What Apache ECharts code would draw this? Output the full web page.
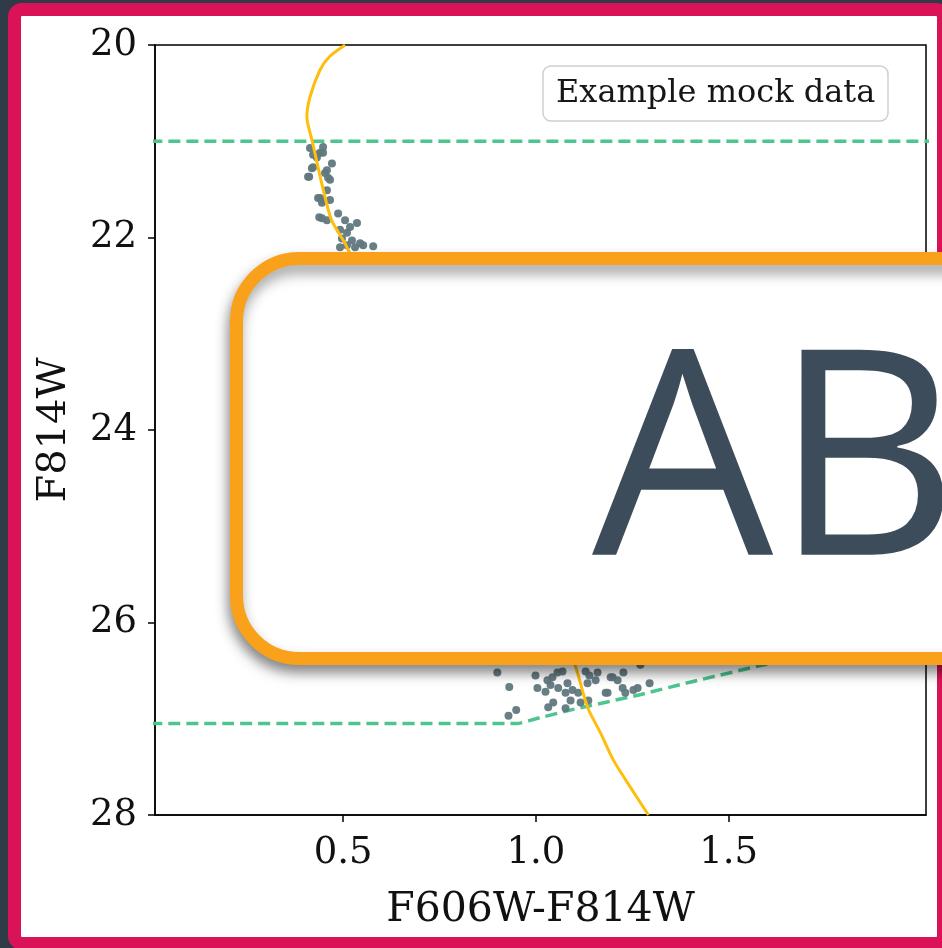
<!DOCTYPE html>
<html>
<head>
<meta charset="utf-8">
<script src="https://cdn.jsdelivr.net/npm/echarts@6/dist/echarts.min.js"></script>
<style>
  html, body { margin: 0; padding: 0; background: #2f3b46; overflow: hidden; }
  #frame { position: absolute; left: 8px; top: 3px; width: 942px; height: 947px; box-sizing: border-box;
           border: 13px solid #da1359; border-radius: 14px; background: #ffffff; }
  #chart { position: absolute; left: 0; top: 0; width: 942px; height: 948px; }
</style>
</head>
<body>
<div id="frame"></div>
<div id="chart"></div>
<script>
// ---- data ----
const xTickValues = [0.5, 1.0, 1.5];
const yTickValues = [20, 22, 24, 26, 28];
const xTitle = 'F606W-F814W';
const yTitle = 'F814W';
const legendText = 'Example mock data';
const overlayText = 'AB';

// isochrone (colour, magnitude)
const isochrone = [
  [0.505, 20.0], [0.465, 20.12], [0.44, 20.26], [0.414, 20.54], [0.406, 20.75], [0.42, 21.0],
  [0.447, 21.48], [0.47, 21.82], [0.505, 22.06], [0.513, 22.13], [0.6, 22.7],
  [0.7, 23.4], [0.8, 24.1], [0.9, 24.8], [0.98, 25.4], [1.05, 25.95], [1.103, 26.46],
  [1.134, 26.88], [1.168, 27.15], [1.201, 27.43], [1.245, 27.71], [1.292, 28.0]
];

// selection limits (dashed)
const upperLimit = [[0.0, 21.0], [2.1, 21.0]];
const lowerLimit = [
  [0.0, 27.05], [0.95, 27.05], [1.0, 27.0], [1.1, 26.9], [1.27, 26.75],
  [1.4, 26.62], [1.58, 26.45], [2.1, 25.95]
];

// mock stars
const starsUpper = [
  [0.414,21.07],[0.440,21.12],[0.422,21.14],[0.448,21.12],[0.432,21.17],[0.471,21.23],
  [0.419,21.28],[0.458,21.30],[0.453,21.33],[0.412,21.37],[0.461,21.38],[0.466,21.40],
  [0.458,21.51],[0.440,21.59],[0.448,21.61],[0.466,21.61],[0.445,21.64],[0.487,21.75],
  [0.445,21.80],[0.458,21.82],[0.505,21.82],[0.518,21.89],[0.536,21.85],[0.492,21.92],
  [0.510,21.95],[0.497,22.01],[0.523,22.03],[0.544,22.06],[0.492,22.10],[0.510,22.08],
  [0.531,22.10],[0.552,22.08],[0.578,22.09],[0.409,21.37],[0.438,21.79],[0.435,21.59],
  [0.448,21.06],[0.432,21.14],[0.422,21.27]
];
const starsLower = [
  [0.900,26.52],[0.931,26.67],[0.949,26.91],[0.929,26.97],[0.999,26.55],[1.004,26.68],
  [1.025,26.72],[1.030,26.60],[1.043,26.57],[1.056,26.52],[1.069,26.51],[1.038,26.65],
  [1.045,26.83],[1.032,26.88],[1.058,26.68],[1.077,26.73],[1.082,26.63],[1.095,26.70],
  [1.090,26.81],[1.110,26.73],[1.116,26.83],[1.134,26.63],[1.136,26.81],[1.155,26.60],
  [1.160,26.52],[1.129,26.51],[1.186,26.73],[1.199,26.57],[1.212,26.60],[1.227,26.52],
  [1.225,26.68],[1.232,26.73],[1.253,26.70],[1.271,26.44],[1.295,26.63],[1.077,26.89],
  [1.264,26.68],[1.181,26.73],[1.194,26.57],[1.139,26.55]
];

const serif = '"DejaVu Serif", "Liberation Serif", serif';
const chart = echarts.init(document.getElementById('chart'), null, { renderer: 'canvas' });

chart.setOption({
  backgroundColor: 'transparent',
  animation: false,
  grid: { left: 155, top: 45, width: 771, height: 770, show: true, borderColor: '#000', borderWidth: 1.5,
          backgroundColor: 'transparent', containLabel: false, outerBoundsMode: 'none' },
  title: {
    text: legendText, left: 543, top: 66, padding: [11, 13, 11, 13],
    borderWidth: 1.5, borderColor: '#c9d1d5', borderRadius: 8, backgroundColor: 'rgba(255,255,255,0.8)',
    textStyle: { fontFamily: serif, fontSize: 32, lineHeight: 33, fontWeight: 'normal', color: '#161616' }
  },
  xAxis: {
    type: 'value', min: 0.012, max: 2.012,
    name: xTitle, nameLocation: 'middle', nameGap: 75,
    nameTextStyle: { fontFamily: serif, fontSize: 41, color: '#111' },
    axisLine: { show: true, onZero: false, lineStyle: { color: '#000', width: 1.5 } },
    axisTick: { show: true, length: 7, customValues: xTickValues, lineStyle: { color: '#000', width: 1.5 } },
    axisLabel: { customValues: xTickValues, margin: 20, fontFamily: serif, fontSize: 37, color: '#111',
                 formatter: v => Number(v).toFixed(1) },
    splitLine: { show: false }
  },
  yAxis: {
    type: 'value', min: 20, max: 28, interval: 2, inverse: true,
    name: yTitle, nameLocation: 'middle', nameGap: 80, nameRotate: 90,
    nameTextStyle: { fontFamily: serif, fontSize: 40, color: '#111' },
    axisLine: { show: true, onZero: false, lineStyle: { color: '#000', width: 1.5 } },
    axisTick: { show: true, length: 7, lineStyle: { color: '#000', width: 1.5 } },
    axisLabel: { margin: 18, fontFamily: serif, fontSize: 37, color: '#111',
                 formatter: v => String(v), customValues: yTickValues },
    splitLine: { show: false }
  },
  series: [
    { type: 'line', data: upperLimit, showSymbol: false, symbol: 'none', silent: true, z: 2,
      lineStyle: { color: '#4ec48f', width: 3.5, type: [12, 6] } },
    { type: 'line', data: lowerLimit, showSymbol: false, symbol: 'none', silent: true, z: 2, smooth: 0.2,
      lineStyle: { color: '#4ec48f', width: 3.5, type: [12, 6] } },
    { type: 'scatter', data: starsUpper.concat(starsLower), symbolSize: 8, z: 3,
      itemStyle: { color: '#617880', opacity: 0.95 } },
    { type: 'line', data: isochrone, showSymbol: false, symbol: 'none', silent: true,
      smooth: 0.25, z: 4,
      lineStyle: { color: '#ffbe0b', width: 3 } }
  ],
  graphic: [
    { type: 'rect', z: 100, zlevel: 0,
      shape: { x: 236.5, y: 258.5, width: 800, height: 400, r: 63 },
      style: { fill: '#ffffff', stroke: '#f9a11b', lineWidth: 13,
               shadowBlur: 14, shadowOffsetX: -2, shadowOffsetY: 8, shadowColor: 'rgba(0,0,0,0.4)' } },
    { type: 'text', z: 101, zlevel: 0,
      style: { x: 592, y: 473, text: overlayText, fill: '#3d4c5a',
               font: '400 287px "Open Sans", sans-serif', textAlign: 'left', verticalAlign: 'middle' } }
  ]
});
</script>
</body>
</html>
